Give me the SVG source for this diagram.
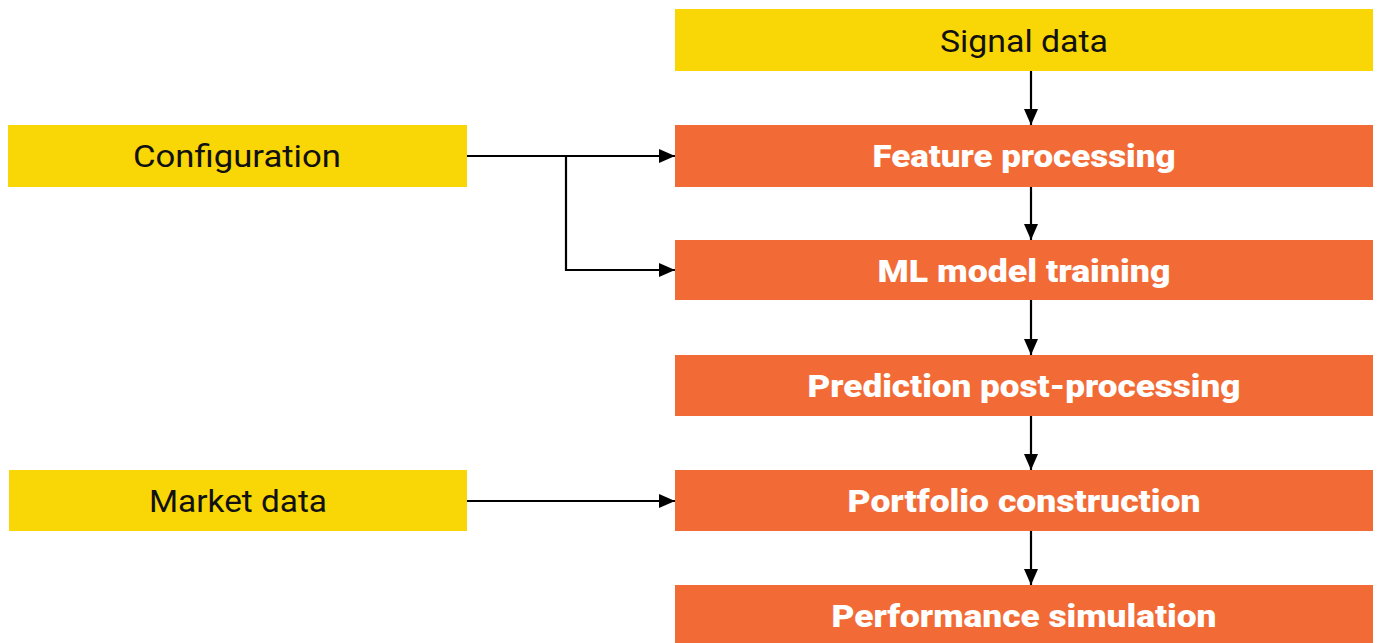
<svg xmlns="http://www.w3.org/2000/svg" width="1377" height="643" viewBox="0 0 1377 643">
<style>
.y{fill:#F9D606}
.o{fill:#F26B36}
.t{font-family:Roboto,"Liberation Sans",sans-serif;font-size:31px;text-anchor:middle;fill:#111}
.b{font-family:Roboto,"Liberation Sans",sans-serif;font-size:31px;font-weight:900;text-anchor:middle;fill:#fff}
.c{stroke:#000;stroke-width:2.2;fill:none}
</style>
<defs>
<marker id="ah" viewBox="0 0 16 14" refX="16" refY="7" markerWidth="16" markerHeight="14" markerUnits="userSpaceOnUse" orient="auto">
<path d="M0,0 L16,7 L0,14 z" fill="#000"/>
</marker>
</defs>
<g id="signal"><rect class="y" x="675" y="9" width="698" height="62"/><text class="t" x="1024" y="52" textLength="168" lengthAdjust="spacingAndGlyphs">Signal data</text></g>
<g id="config"><rect class="y" x="8" y="125" width="459" height="62"/><text class="t" x="237" y="167" textLength="208" lengthAdjust="spacingAndGlyphs">Configuration</text></g>
<g id="market"><rect class="y" x="9" y="470" width="458" height="61"/><text class="t" x="238" y="512" textLength="178" lengthAdjust="spacingAndGlyphs">Market data</text></g>
<g id="feature"><rect class="o" x="675" y="125" width="698" height="62"/><text class="b" x="1024" y="167" textLength="303" lengthAdjust="spacingAndGlyphs">Feature processing</text></g>
<g id="ml"><rect class="o" x="675" y="240" width="698" height="60"/><text class="b" x="1024" y="282" textLength="293" lengthAdjust="spacingAndGlyphs">ML model training</text></g>
<g id="pred"><rect class="o" x="675" y="355" width="698" height="61"/><text class="b" x="1024" y="397" textLength="433" lengthAdjust="spacingAndGlyphs">Prediction post-processing</text></g>
<g id="portfolio"><rect class="o" x="675" y="470" width="698" height="61"/><text class="b" x="1024" y="512" textLength="353" lengthAdjust="spacingAndGlyphs">Portfolio construction</text></g>
<g id="perf"><rect class="o" x="675" y="585" width="698" height="58"/><text class="b" x="1024" y="627" textLength="385" lengthAdjust="spacingAndGlyphs">Performance simulation</text></g>
<g id="connectors">
<path class="c" d="M1031,71 V125" marker-end="url(#ah)"/>
<path class="c" d="M1031,187 V240" marker-end="url(#ah)"/>
<path class="c" d="M1031,300 V355" marker-end="url(#ah)"/>
<path class="c" d="M1031,416 V470" marker-end="url(#ah)"/>
<path class="c" d="M1031,531 V585" marker-end="url(#ah)"/>
<path class="c" d="M467,156 H675" marker-end="url(#ah)"/>
<path class="c" d="M566,156 V270 H675" marker-end="url(#ah)"/>
<path class="c" d="M467,501 H675" marker-end="url(#ah)"/>
</g>
</svg>
